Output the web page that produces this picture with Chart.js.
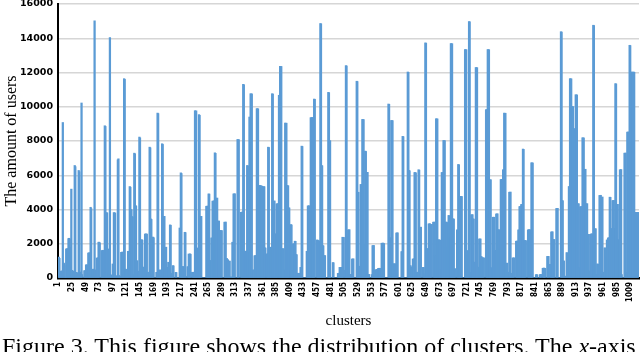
<!DOCTYPE html>
<html>
<head>
<meta charset="utf-8">
<script src="https://cdn.jsdelivr.net/npm/chart.js@4.4.1/dist/chart.umd.min.js"></script>
<style>
  html, body { margin: 0; padding: 0; background: #fff; overflow: hidden; }
  #wrap { position: relative; width: 640px; height: 352px; overflow: hidden; }
  #caption { position: absolute; left: 2px; top: 333px; font-family: 'Liberation Serif', serif; font-size: 24px; color: #000; white-space: nowrap; }
</style>
</head>
<body>
<div id="wrap">
  <canvas id="c" width="640" height="352"></canvas>
  <div id="caption">Figure 3. This figure shows the distribution of clusters. The <i>x</i>-axis</div>
</div>
<script>
// Number of users in each cluster (clusters 1..1024)
const userCounts = [
  1180, 1220, 1150, 240, 310, 390, 420, 180, 9080, 880, 850, 720, 60, 30, 1700, 1650, 1720, 1700, 2300, 2320, 2280, 1800, 600, 5190,
  450, 400, 380, 410, 150, 6570, 6500, 250, 330, 300, 200, 90, 6280, 6200, 150, 120, 350, 10220, 200, 0, 0, 60, 430, 410,
  430, 760, 780, 740, 120, 1460, 1450, 1480, 300, 4130, 4050, 200, 500, 480, 520, 200, 15010, 150, 470, 460, 1170, 1150, 1180, 2090,
  2090, 2050, 0, 0, 40, 1600, 1620, 1580, 1610, 200, 8890, 8850, 300, 3820, 3800, 1700, 1680, 250, 150, 14040, 200, 140, 130, 160,
  820, 800, 3820, 3790, 3800, 120, 110, 130, 60, 6900, 6960, 150, 100, 90, 60, 1500, 1480, 1520, 1490, 200, 11640, 11600, 520, 510,
  470, 460, 150, 1560, 1540, 1560, 5340, 5300, 4000, 3980, 3590, 3560, 200, 90, 7290, 7250, 4230, 4200, 1010, 1000, 300, 250, 400, 8230,
  8180, 2220, 2200, 2240, 2210, 620, 600, 640, 130, 2570, 2550, 2580, 2560, 330, 320, 340, 100, 7640, 7600, 3450, 3420, 2380, 2360, 2390,
  2350, 0, 0, 0, 0, 330, 320, 9630, 9600, 460, 450, 470, 440, 460, 120, 7840, 7800, 3590, 3570, 3600, 1790, 1780, 1800, 620,
  620, 600, 920, 900, 100, 3100, 3080, 270, 260, 280, 720, 710, 0, 0, 0, 330, 320, 0, 0, 0, 0, 0, 2920, 2900,
  6140, 6100, 660, 650, 670, 640, 150, 2670, 2650, 100, 0, 0, 660, 650, 1400, 1380, 1410, 1390, 0, 0, 330, 320, 340, 50,
  200, 9770, 9700, 9760, 1740, 1720, 1750, 1730, 9540, 9500, 3590, 3570, 3600, 0, 0, 0, 0, 0, 0, 0, 0, 4190, 4170, 4200,
  4190, 4910, 4900, 1010, 1000, 1020, 2340, 2330, 4490, 4480, 4500, 4500, 7310, 7280, 4660, 4640, 4670, 3320, 3300, 3330, 2770, 2760, 2780, 2750,
  2770, 0, 0, 0, 0, 3260, 3240, 3270, 1150, 1140, 1070, 1060, 980, 970, 990, 50, 40, 60, 50, 2090, 2080, 4910, 4900, 4920,
  0, 0, 0, 0, 8090, 8060, 8080, 0, 0, 0, 3840, 3820, 3850, 3800, 11310, 11280, 1560, 1550, 1570, 1540, 1540, 6570, 6550, 200,
  1500, 9400, 9380, 10760, 10740, 10750, 460, 460, 450, 470, 1300, 1290, 1310, 1280, 9890, 9870, 9880, 5400, 5390, 5410, 5380, 5380, 5370, 5360,
  620, 620, 5340, 5330, 1760, 1750, 0, 1400, 1390, 1410, 7640, 7620, 1790, 1780, 1800, 1790, 1770, 10760, 10740, 4490, 4480, 4500, 2570, 2560,
  2570, 4330, 4320, 4340, 4310, 10670, 10650, 12360, 12340, 12350, 1700, 1690, 1710, 1700, 460, 450, 9050, 9030, 9040, 5400, 5380, 5390, 4100, 4090,
  400, 390, 3120, 3100, 430, 420, 1990, 1980, 2000, 2150, 2140, 1370, 1360, 270, 260, 280, 270, 230, 220, 620, 610, 7700, 7680, 0,
  0, 0, 0, 0, 0, 0, 1560, 1550, 4210, 4200, 4220, 3880, 3870, 9360, 9350, 9370, 9340, 9360, 9350, 10450, 10430, 0, 0, 0,
  2220, 2210, 2180, 2170, 2150, 2140, 14860, 14840, 6570, 6550, 1890, 1880, 1300, 1290, 1310, 0, 0, 0, 0, 0, 10840, 10820, 8030, 8010,
  0, 0, 0, 0, 900, 890, 0, 0, 0, 0, 0, 0, 0, 270, 260, 280, 620, 600, 610, 620, 600, 2380, 2360, 2370,
  0, 460, 450, 12400, 12380, 2420, 2410, 2810, 2800, 2820, 200, 190, 210, 200, 1110, 1100, 1120, 0, 0, 0, 0, 0, 11490, 11470,
  5010, 5000, 680, 670, 690, 5460, 5450, 5470, 9260, 9240, 9250, 1950, 1940, 7410, 7390, 6160, 6150, 6170, 200, 190, 210, 0, 0, 0,
  0, 200, 1890, 1880, 1900, 460, 450, 470, 460, 500, 490, 510, 560, 550, 570, 560, 530, 520, 2030, 2020, 2040, 2030, 2010, 0,
  0, 0, 0, 0, 0, 0, 10160, 10140, 2340, 2330, 2350, 9200, 9180, 9190, 820, 810, 830, 820, 810, 820, 2630, 2620, 2640, 0,
  0, 0, 0, 0, 0, 1540, 1530, 8270, 8250, 0, 0, 0, 0, 0, 0, 0, 12030, 12010, 6280, 6260, 720, 710, 620, 610,
  620, 1110, 1100, 1120, 6160, 6150, 6140, 330, 320, 340, 330, 6320, 6300, 2960, 2950, 2970, 0, 0, 0, 620, 610, 230, 220, 13730,
  13710, 1700, 1690, 1710, 1700, 3160, 3150, 3170, 3120, 3110, 3130, 0, 0, 3260, 3250, 3270, 1300, 1290, 9300, 9280, 9290, 2220, 2210, 2230,
  2220, 2200, 470, 460, 6160, 6150, 6140, 8030, 8010, 8020, 3260, 3250, 3270, 3240, 1830, 1820, 3650, 3640, 2340, 2330, 13690, 13670, 13680, 3450,
  3450, 3440, 530, 520, 540, 0, 0, 2810, 2800, 6630, 6610, 4760, 4750, 4770, 4740, 4760, 0, 0, 0, 0, 0, 13340, 13320, 13330,
  1600, 1590, 1300, 1290, 14980, 14960, 330, 320, 3690, 3680, 3700, 3450, 3440, 920, 910, 930, 12290, 12270, 12280, 620, 610, 630, 2280, 2270,
  2280, 1250, 1240, 1170, 1160, 1180, 1170, 0, 0, 0, 9830, 9810, 9820, 13340, 13320, 13330, 5730, 5720, 5740, 590, 580, 600, 3550, 3540,
  3550, 1600, 1590, 1610, 3740, 3730, 3750, 2810, 2800, 2820, 1700, 1690, 5750, 5740, 5760, 5750, 6320, 6310, 9630, 9610, 9620, 860, 850, 870,
  330, 320, 340, 5010, 5000, 5020, 270, 260, 280, 1170, 1160, 1180, 0, 0, 0, 2150, 2140, 2160, 2150, 2810, 2800, 4170, 4160, 4180,
  4290, 4280, 4300, 7530, 7510, 2180, 2170, 2190, 2180, 0, 0, 0, 2810, 2800, 2820, 2810, 2800, 200, 6730, 6710, 6720, 0, 0, 0,
  0, 0, 190, 200, 180, 0, 0, 0, 0, 200, 190, 210, 0, 0, 570, 560, 580, 570, 560, 0, 0, 0, 1260, 1250,
  1260, 0, 0, 800, 790, 2690, 2680, 2700, 2240, 2230, 2250, 0, 0, 0, 4060, 4050, 4070, 0, 0, 0, 0, 0, 14380, 14360,
  4520, 4510, 1000, 990, 100, 90, 110, 100, 1480, 1470, 1170, 1160, 5340, 5330, 11640, 11620, 11630, 10020, 10000, 10010, 8720, 8700, 8710, 8690,
  10700, 10680, 10690, 4330, 4320, 4340, 600, 590, 4160, 4150, 4170, 4160, 8190, 8170, 8180, 6340, 6330, 6350, 4330, 4320, 4340, 2540, 2530, 2550,
  400, 390, 410, 2570, 2560, 2580, 200, 14760, 14740, 2870, 2860, 2880, 200, 200, 820, 810, 200, 190, 4820, 4810, 4830, 4720, 4710, 4730,
  200, 340, 330, 1760, 1750, 1210, 1200, 2220, 2210, 2340, 2330, 2350, 4720, 4710, 2870, 2860, 2880, 4520, 4510, 4530, 2870, 2860, 11350, 11330,
  4290, 4280, 4300, 2220, 2210, 2230, 6320, 6310, 6330, 200, 0, 0, 0, 0, 7290, 7280, 7300, 300, 300, 8520, 8510, 8530, 300, 13590,
  13570, 200, 12030, 12010, 12020, 12000, 12030, 12010, 3820, 3810, 3830, 3820, 3810, 3830, 3820, 3820
];

// Cluster ids (categories) and the ids printed under the axis
const clusterIds = userCounts.map((_, i) => String(i + 1));
const tickLabels = ['1','25','49','73','97','121','145','169','193','217','241','265','289','313','337','361','385','409','433','457','481','505','529','553','577','601','625','649','673','697','721','745','769','793','817','841','865','889','913','937','961','985','1009'];
const yTicks = [0, 2000, 4000, 6000, 8000, 10000, 12000, 14000, 16000];

const tickSet = new Set(tickLabels);

new Chart(document.getElementById('c'), {
  type: 'bar',
  data: {
    labels: clusterIds,
    datasets: [{
      data: userCounts,
      backgroundColor: '#5b9bd5',
      borderWidth: 0,
      barThickness: 1.6
    }]
  },
  options: {
    responsive: false,
    animation: false,
    events: [],
    layout: { padding: { top: 4, right: 1, bottom: 22, left: 0 } },
    plugins: { legend: { display: false }, tooltip: { enabled: false } },
    scales: {
      x: {
        type: 'category',
        offset: true,
        grid: { display: false, drawTicks: false },
        border: { display: true, color: '#000', width: 2.5 },
        ticks: {
          autoSkip: false,
          maxRotation: 90,
          minRotation: 90,
          padding: 4,
          color: '#000',
          font: { family: 'DejaVu Sans Condensed', weight: 'bold', size: 8 },
          callback: function (v) {
            const l = this.getLabelForValue(v);
            return tickSet.has(l) ? l : '';
          }
        },
        title: {
          display: true,
          text: 'clusters',
          color: '#000',
          font: { family: 'Liberation Serif', size: 15 },
          padding: { top: 0, bottom: 0 }
        },
        afterFit: s => { s.height = 52; s.paddingLeft = 0; s.paddingRight = 0; }
      },
      y: {
        min: 0,
        max: 16000,
        afterBuildTicks: s => { s.ticks = yTicks.map(v => ({ value: v })); },
        grid: { color: '#d6d6d6', lineWidth: 1.5, drawTicks: false },
        border: { display: true, color: '#000', width: 2 },
        ticks: {
          padding: 5,
          color: '#000',
          font: { family: 'DejaVu Sans', weight: 'bold', size: 9.5 },
          callback: v => String(v)
        },
        title: {
          display: true,
          text: 'The amount of users',
          color: '#000',
          font: { family: 'Liberation Serif', size: 16 },
          padding: { top: 2, bottom: 0 }
        },
        afterFit: s => { s.width = 58; s.paddingTop = 0; s.paddingBottom = 0; }
      }
    }
  }
});
</script>
</body>
</html>
